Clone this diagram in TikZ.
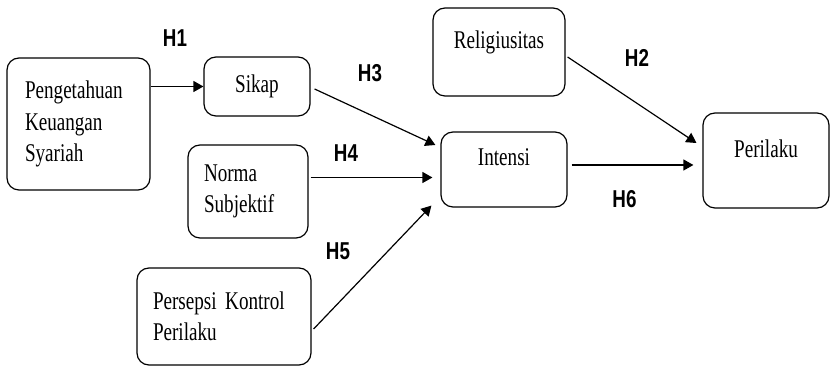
\documentclass[tikz,border=0pt]{standalone}
\usepackage{fontspec}
\usepackage{tikz}
\usetikzlibrary{arrows.meta, positioning}

\newfontfamily\serifvar{Liberation Serif}[FakeStretch=0.75, WordSpace=0.7]
\newfontfamily\sansvar{Liberation Sans}[FakeStretch=0.77]
\newcommand\boxfont{\serifvar\fontsize{25.5}{31.5}\selectfont}
\newcommand\hypfont{\sansvar\bfseries\fontsize{24.4}{28}\selectfont}

\begin{document}
\begin{tikzpicture}[
  x=1pt, y=1pt,
  every node/.style={font=\boxfont},
  var/.style={rectangle, rounded corners=12pt, draw=black,
              line width=1.2pt, inner sep=0pt},
  uptext/.style={text depth=24pt},
  hyp/.style={font=\hypfont},
  arrow/.style={-{Triangle[length=10pt,width=11pt]}, line width=1.2pt},
]
\useasboundingbox (0,0) rectangle (830,366);

% Variables
\node[var, minimum width=143pt, minimum height=132pt, text width=107pt,
      align=left] (pks) at (78.5,242) {Pengetahuan\\Keuangan\\Syariah};
\node[var, minimum width=106pt, minimum height=59pt] (sikap) at (257,279.5) {Sikap};
\node[var, minimum width=120pt, minimum height=93pt, text width=88pt,
      align=left] (norma) at (248,174.5) {Norma\\Subjektif};
\node[var, minimum width=174pt, minimum height=97pt, text width=142pt,
      align=left] (pkp) at (224,49.5) {Persepsi Kontrol\\Perilaku};
\node[var, uptext, minimum width=126pt, minimum height=75pt] (intensi) at (504,196.5) {Intensi};
\node[var, uptext, minimum width=132pt, minimum height=88pt] (relig) at (499,314) {Religiusitas};
\node[var, uptext, minimum width=126pt, minimum height=95pt] (perilaku) at (766,205.5) {Perilaku};

% Arrows
\draw[arrow] (pks.east |- sikap.west) -- (sikap.west);
\draw[arrow] ([xshift=4pt,yshift=-2.5pt]sikap.east) -- ([xshift=-5pt,yshift=24.5pt]intensi.west);
\draw[arrow] ([xshift=2pt,yshift=14pt]norma.east) -- ([xshift=-8pt,yshift=-8pt]intensi.west);
\draw[arrow] ([xshift=2pt,yshift=-12.5pt]pkp.east) -- ([xshift=-9pt,yshift=2pt]intensi.south west);
\draw[arrow] ([xshift=2pt,yshift=-5pt]relig.east) -- ([xshift=-6pt,yshift=17.5pt]perilaku.west);
\draw[arrow] ([xshift=4pt,yshift=4.5pt]intensi.east) -- ([xshift=-9pt,yshift=-4.5pt]perilaku.west);

% Hypotheses
\node[hyp] (h1) at (175,328) {H1};
\node[hyp] (h2) at (637,308) {H2};
\node[hyp] (h3) at (370,293) {H3};
\node[hyp] (h4) at (346,212.5) {H4};
\node[hyp] (h5) at (338,115) {H5};
\node[hyp] (h6) at (624.5,167) {H6};
\end{tikzpicture}
\end{document}
